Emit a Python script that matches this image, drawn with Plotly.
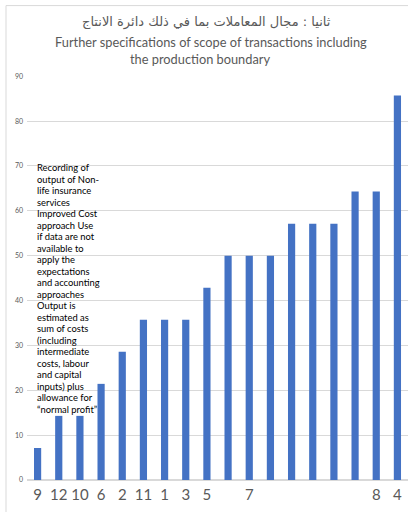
import plotly.graph_objects as go

positions = list(range(18))
values = [7.14, 14.29, 14.29, 21.43, 28.57, 35.71, 35.71, 35.71, 42.86,
          50.0, 50.0, 50.0, 57.14, 57.14, 57.14, 64.29, 64.29, 85.71]
tick_labels = ["9", "12", "10", "6", "2", "11", "1", "3", "5",
               "", "7", "", "", "", "", "", "8", "4"]
y_ticks = [0, 10, 20, 30, 40, 50, 60, 70, 80, 90]

title_ar = "ثانيا : مجال المعاملات بما في ذلك دائرة الانتاج"
title_en1 = "Further specifications of scope of transactions including"
title_en2 = "the production boundary"
note_lines = ["Recording of", "output of Non-", "life insurance", "services",
              "Improved Cost", "approach Use", "if data are not", "available to",
              "apply the", "expectations", "and accounting", "approaches",
              "Output is", "estimated as", "sum of costs", "(including",
              "intermediate", "costs, labour", "and capital", "inputs) plus",
              "allowance for", "“normal profit”"]

W, H = 408, 512
L, R, T, B = 27, 0, 76, 31.5

fig = go.Figure(go.Bar(x=positions, y=values, marker_color="#4472C4",
                       marker_line_width=0, width=0.34))

gray = "#595959"
fig.update_layout(
    width=W, height=H, margin=dict(l=L, r=R, t=T, b=B, pad=0),
    paper_bgcolor="white", plot_bgcolor="white", showlegend=False,
    font=dict(family="Lato", color=gray),
    xaxis=dict(range=[-0.5, 17.5], tickvals=positions, ticktext=tick_labels,
               showgrid=False, zeroline=False, showline=False, ticks="",
               ticklabelstandoff=4,
               tickfont=dict(size=15, color=gray, family="Lato")),
    yaxis=dict(range=[0, 90.05], tickvals=y_ticks, showgrid=True,
               gridcolor="#d9d9d9", gridwidth=1, zeroline=True,
               zerolinecolor="#d9d9d9", zerolinewidth=1.5, showline=False,
               ticks="", ticklabelstandoff=3,
               tickfont=dict(size=7, color=gray, family="Lato")),
    bargap=0.67,
)

def px_x(px):
    return (px - L) / (W - L - R)

def px_y(py):
    return (H - B - py) / (H - T - B)

fig.add_annotation(text=title_ar, xref="paper", yref="paper", x=px_x(206), y=px_y(22),
                   showarrow=False, xanchor="center", yanchor="middle",
                   font=dict(size=13, color=gray, family="DejaVu Sans"))
fig.add_annotation(text=title_en1, xref="paper", yref="paper", x=px_x(211), y=px_y(42),
                   showarrow=False, xanchor="center", yanchor="middle",
                   font=dict(size=12.8, color=gray, family="Lato"))
fig.add_annotation(text=title_en2, xref="paper", yref="paper", x=px_x(200), y=px_y(59),
                   showarrow=False, xanchor="center", yanchor="middle",
                   font=dict(size=12.8, color=gray, family="Lato"))

line_step = 11.5
for i, line in enumerate(note_lines):
    fig.add_annotation(text=line, xref="paper", yref="paper",
                       x=px_x(35), y=px_y(168 + i * line_step), showarrow=False,
                       xanchor="left", yanchor="middle", align="left",
                       font=dict(size=9.4, color="#000000", family="Lato"))

fig.add_shape(type="rect", xref="paper", yref="paper",
              x0=px_x(6), x1=px_x(420), y0=px_y(530), y1=px_y(5.5),
              line=dict(color="#d9d9d9", width=1), fillcolor="rgba(0,0,0,0)",
              layer="below")

fig.write_html("out.html", config={"displayModeBar": False},
               post_script="document.body.style.margin='0';document.body.style.overflow='hidden';")
